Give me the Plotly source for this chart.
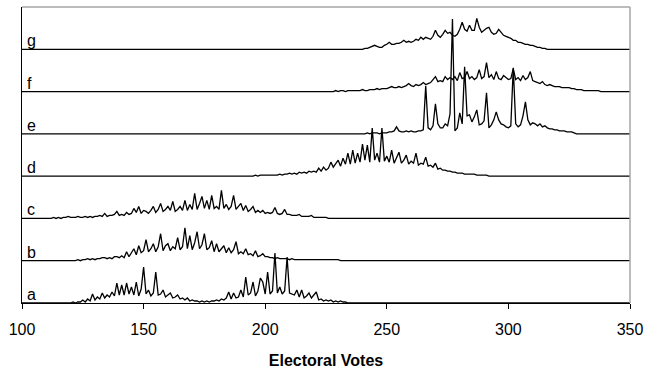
import plotly.graph_objects as go

# ---- data -------------------------------------------------------------
ev_lo, ev_hi = 100, 350
x_ticks = [100, 150, 200, 250, 300, 350]
row_labels = ["a", "b", "c", "d", "e", "f", "g"]

start_a = 120
freq_a = [0, 1, 0, 1, 1, 3, 1, 4, 2, 9,
          3, 6, 4, 10, 5, 8, 6, 11, 7, 20,
          8, 18, 8, 20, 9, 16, 8, 21, 7, 14,
          36, 9, 13, 7, 10, 31, 8, 9, 13, 6,
          8, 10, 5, 6, 8, 4, 5, 3, 5, 2,
          3, 2, 2, 1, 2, 1, 2, 1, 2, 2,
          3, 2, 4, 3, 5, 11, 4, 10, 5, 6,
          13, 6, 26, 8, 10, 21, 7, 12, 25, 21,
          9, 31, 9, 12, 50, 10, 16, 9, 12, 46,
          10, 9, 8, 13, 6, 13, 5, 7, 10, 5,
          8, 11, 3, 4, 2, 3, 2, 3, 1, 2,
          1, 2, 1, 1, 0]

start_b = 122
freq_b = [0, 1, 0, 1, 1, 2, 1, 2, 1, 2,
          2, 3, 3, 2, 3, 2, 4, 4, 3, 5,
          3, 9, 4, 8, 12, 6, 15, 8, 10, 21,
          9, 12, 17, 9, 14, 27, 10, 15, 17, 10,
          14, 12, 23, 11, 14, 33, 12, 25, 11, 18,
          29, 12, 16, 27, 11, 13, 20, 9, 17, 9,
          12, 15, 8, 13, 8, 11, 19, 7, 9, 7,
          12, 6, 7, 5, 10, 4, 5, 7, 4, 4,
          3, 3, 2, 3, 2, 2, 2, 2, 1, 2,
          1, 1, 1, 1, 1, 1, 1, 1, 1, 1,
          1, 1, 1, 1, 1, 1, 1, 1, 1, 0]

start_c = 112
freq_c = [0, 1, 0, 1, 0, 1, 1, 2, 1, 1,
          1, 2, 1, 1, 2, 1, 2, 1, 2, 2,
          3, 2, 5, 2, 3, 3, 4, 7, 3, 4,
          3, 6, 4, 5, 10, 6, 12, 5, 8, 7,
          5, 8, 12, 6, 9, 15, 7, 9, 12, 8,
          17, 7, 9, 12, 8, 18, 8, 14, 9, 25,
          9, 15, 22, 10, 18, 9, 23, 10, 12, 9,
          28, 10, 14, 9, 12, 23, 9, 12, 15, 8,
          13, 7, 9, 12, 6, 8, 6, 8, 5, 6,
          5, 6, 11, 5, 4, 5, 9, 4, 4, 3,
          3, 3, 4, 2, 2, 2, 2, 3, 1, 1,
          1, 1, 1, 1, 0]

start_d = 195
freq_d = [0, 1, 0, 1, 1, 1, 1, 1, 1, 1,
          1, 2, 1, 2, 2, 3, 2, 3, 2, 4,
          3, 4, 3, 5, 4, 5, 4, 8, 5, 9,
          6, 8, 14, 9, 12, 16, 10, 18, 12, 23,
          12, 26, 13, 23, 14, 32, 16, 31, 14, 48,
          16, 23, 14, 48, 15, 20, 14, 26, 13, 18,
          24, 13, 16, 21, 12, 15, 13, 23, 11, 13,
          12, 19, 10, 11, 9, 13, 7, 8, 6, 6,
          5, 5, 4, 4, 3, 3, 3, 2, 2, 2,
          2, 2, 1, 1, 1, 1, 1, 0]

start_e = 240
freq_e = [0, 0, 1, 0, 1, 1, 1, 0, 1, 1,
          1, 2, 2, 3, 7, 3, 2, 2, 3, 2,
          3, 2, 2, 3, 3, 4, 48, 6, 4, 8,
          30, 10, 6, 6, 10, 8, 20, 115, 3, 6,
          21, 10, 67, 18, 19, 12, 17, 24, 9, 10,
          13, 41, 6, 9, 14, 22, 14, 10, 9, 7,
          6, 8, 66, 10, 7, 9, 18, 32, 14, 9,
          11, 10, 8, 10, 7, 8, 6, 5, 5, 4,
          4, 3, 3, 3, 2, 2, 2, 1, 0]

start_f = 228
freq_f = [0, 1, 0, 1, 1, 0, 1, 1, 1, 1,
          1, 1, 2, 1, 1, 2, 2, 2, 3, 2,
          3, 3, 3, 4, 5, 4, 4, 5, 4, 5,
          6, 8, 6, 5, 7, 6, 7, 9, 7, 8,
          9, 12, 15, 10, 11, 10, 15, 12, 14, 12,
          15, 11, 19, 13, 14, 20, 13, 15, 12, 14,
          22, 13, 15, 29, 14, 17, 12, 20, 13, 12,
          16, 14, 12, 13, 23, 12, 14, 11, 16, 12,
          14, 20, 11, 10, 9, 8, 10, 7, 6, 7,
          6, 5, 5, 5, 4, 4, 4, 4, 3, 3,
          2, 2, 2, 1, 1, 1, 1, 1, 1, 1, 0]

start_g = 240
freq_g = [0, 1, 1, 2, 3, 4, 3, 2, 2, 4,
          5, 7, 5, 5, 6, 6, 7, 9, 7, 8,
          7, 8, 10, 9, 12, 10, 12, 11, 10, 13,
          19, 14, 12, 15, 19, 16, 17, 14, 13, 15,
          20, 27, 20, 18, 24, 19, 19, 31, 22, 17,
          19, 21, 22, 17, 15, 16, 20, 17, 14, 13,
          12, 11, 9, 9, 7, 7, 6, 5, 5, 4,
          4, 3, 2, 2, 1, 1, 0]

series = [(start_a, freq_a), (start_b, freq_b), (start_c, freq_c),
          (start_d, freq_d), (start_e, freq_e), (start_f, freq_f),
          (start_g, freq_g)]

# ---- figure ------------------------------------------------------------
row_scale = 1 / 42.3  # frequency units per row height
evs = list(range(ev_lo, ev_hi + 1))
fam = "Arial, Liberation Sans, sans-serif"

fig = go.Figure()
for k, (start, vals) in enumerate(series):
    ys = []
    for ev in evs:
        i = ev - start
        v = vals[i] if 0 <= i < len(vals) else 0
        ys.append(k + v * row_scale)
    fig.add_trace(go.Scatter(x=evs, y=ys, mode="lines",
                             line=dict(color="black", width=1.3),
                             hoverinfo="skip", showlegend=False,
                             cliponaxis=False))
    fig.add_annotation(x=ev_lo, y=k, xref="x", yref="y", text=row_labels[k],
                       showarrow=False, xanchor="left", yanchor="bottom",
                       xshift=3, yshift=-2,
                       font=dict(family=fam, size=16, color="black"))

font = dict(family=fam, size=16, color="black")
fig.update_layout(
    width=646, height=369,
    margin=dict(l=22, r=16, t=7, b=66, autoexpand=False),
    paper_bgcolor="white", plot_bgcolor="white",
    font=font,
    hovermode=False,
    xaxis=dict(range=[ev_lo, ev_hi], tickvals=x_ticks, automargin=False,
               ticks="outside", ticklen=5, tickcolor="black",
               showline=True, linecolor="black", linewidth=1,
               showgrid=False, zeroline=False, tickfont=font,
               ticklabelstandoff=7,
               title=dict(text="<b>Electoral Votes</b>",
                          font=dict(family=fam, size=16, color="black"),
                          standoff=18)),
    yaxis=dict(range=[0, 7], showticklabels=False, ticks="", automargin=False,
               showline=True, linecolor="black", linewidth=1,
               showgrid=False, zeroline=False),
    shapes=[
        dict(type="line", xref="paper", yref="paper", x0=0, x1=1, y0=1, y1=1,
             line=dict(color="#a6a6a6", width=1.5)),
        dict(type="line", xref="paper", yref="paper", x0=1, x1=1, y0=0, y1=1,
             line=dict(color="#a6a6a6", width=1.5)),
    ],
)

fig.write_html("out.html", config={"displayModeBar": False},
               post_script="document.body.style.margin='0';"
                           "document.body.style.overflow='hidden';")
